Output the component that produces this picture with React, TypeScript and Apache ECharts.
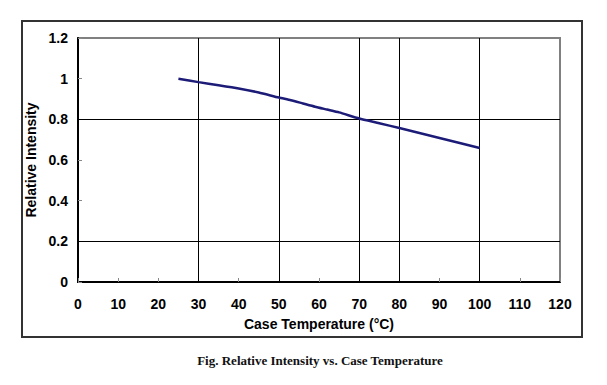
import React, { useEffect, useRef } from "react";
import * as echarts from "echarts";

const temperatures = [25, 30, 35, 40, 45, 50, 53, 56, 59, 62, 65, 70, 75, 80, 90, 100];
const intensity = [1.0, 0.983, 0.968, 0.952, 0.932, 0.907, 0.894, 0.878, 0.862, 0.848, 0.834, 0.804, 0.781, 0.757, 0.708, 0.659];
const vGrid = [30, 50, 70, 80, 100];
const hGrid = [0.2, 0.8];
const xTitle = "Case Temperature (°C)";
const yTitle = "Relative Intensity";
const caption = "Fig. Relative Intensity vs. Case Temperature";

export default function App() {
  const ref = useRef<HTMLDivElement>(null);
  useEffect(() => {
    const chart = echarts.init(ref.current!, null, { renderer: "svg" });
    const data = temperatures.map((t, i) => [t, intensity[i]]);
    chart.setOption({
      animation: false,
      backgroundColor: "#fff",
      grid: {
        left: 78,
        top: 38,
        right: 47,
        bottom: 103,
        show: true,
        borderColor: "#808080",
        borderWidth: 2,
      },
      xAxis: {
        type: "value",
        min: 0,
        max: 120,
        interval: 10,
        name: xTitle,
        nameLocation: "middle",
        nameGap: 35,
        nameTextStyle: { fontFamily: "Liberation Sans", fontWeight: "bold", fontSize: 14, color: "#000" },
        axisLine: { lineStyle: { color: "#000", width: 2 } },
        axisTick: { inside: true, length: 4, lineStyle: { color: "#888" } },
        axisLabel: { fontFamily: "Liberation Sans", fontWeight: "bold", fontSize: 14, color: "#000", margin: 15 },
        splitLine: { show: false },
      },
      yAxis: {
        type: "value",
        min: 0,
        max: 1.2,
        interval: 0.2,
        name: yTitle,
        nameLocation: "middle",
        nameGap: 34,
        nameTextStyle: { fontFamily: "Liberation Sans", fontWeight: "bold", fontSize: 14, color: "#000" },
        axisLine: { show: true, lineStyle: { color: "#000", width: 2 } },
        axisTick: { show: true, inside: true, length: 4, lineStyle: { color: "#888" } },
        axisLabel: { fontFamily: "Liberation Sans", fontWeight: "bold", fontSize: 14, color: "#000", margin: 10 },
        splitLine: { show: false },
      },
      series: [
        {
          type: "line",
          data,
          showSymbol: false,
          smooth: 0.2,
          lineStyle: { color: "#1c1c78", width: 2.5 },
          z: 5,
          markLine: {
            silent: true,
            symbol: ["none", "none"],
            label: { show: false },
            lineStyle: { color: "#000", width: 1, type: "solid" },
            data: [
              ...vGrid.map((v) => ({ xAxis: v })),
              ...hGrid.map((v) => ({ yAxis: v })),
            ],
            z: 1,
          },
        },
      ],
      graphic: [
        {
          type: "rect",
          shape: { x: 22, y: 21, width: 560, height: 316 },
          style: { fill: "none", stroke: "#333", lineWidth: 2 },
        },
        {
          type: "text",
          x: 320,
          y: 360,
          style: {
            text: caption,
            fontFamily: "Liberation Serif",
            fontWeight: "bold",
            fontSize: 13,
            fill: "#111",
            align: "center",
            verticalAlign: "middle",
          },
        },
      ],
    });
    return () => chart.dispose();
  }, []);
  return (
    <div
      ref={ref}
      style={{ position: "fixed", left: 0, top: 0, width: 607, height: 385, background: "#fff" }}
    />
  );
}
